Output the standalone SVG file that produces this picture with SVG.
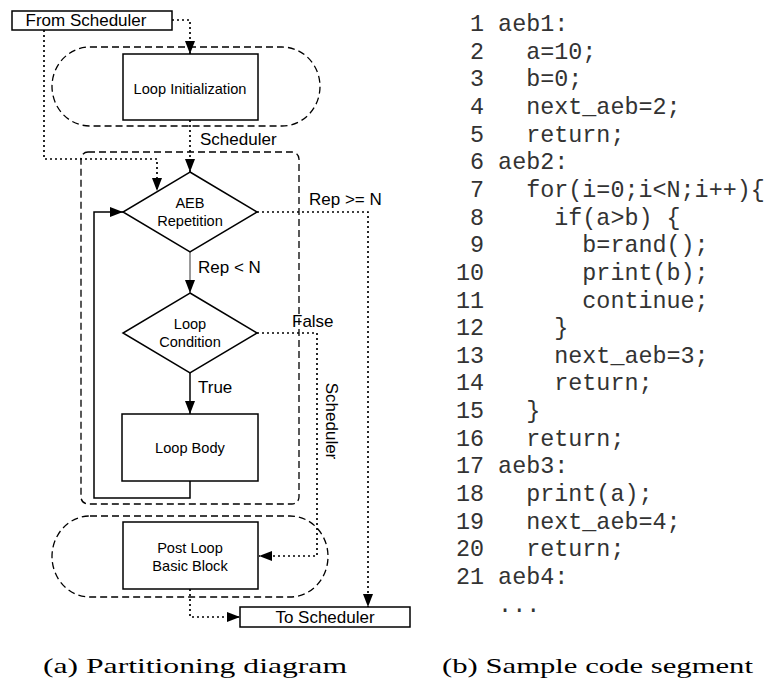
<svg xmlns="http://www.w3.org/2000/svg" width="767" height="684" viewBox="0 0 767 684">
<style>
.lbl{font-family:"Liberation Sans",Arial,sans-serif;font-size:17px;fill:#000}
.nl{font-family:"Liberation Sans",Arial,sans-serif;font-size:14.6px;fill:#000;text-anchor:middle}
.box{fill:#fff;stroke:#000;stroke-width:1.5}
.dash{fill:none;stroke:#000;stroke-width:1.3;stroke-dasharray:7 4}
.dot{fill:none;stroke:#000;stroke-width:1.7;stroke-dasharray:2 3}
.sol{fill:none;stroke:#000;stroke-width:1.5}
.code{font-family:"Liberation Mono","Courier New",monospace;font-size:23.4px;fill:#333;white-space:pre}
.cap{font-family:"Liberation Serif","Times New Roman",serif;font-size:22px;fill:#000}
</style>
<defs>
<marker id="ah" markerUnits="userSpaceOnUse" markerWidth="13" markerHeight="10" refX="13" refY="5" orient="auto">
<path d="M0,0 L13,5 L0,10 z" fill="#000"/>
</marker>
</defs>
<rect width="767" height="684" fill="#fff"/>

<g id="regions">
<rect class="dash" x="52" y="47" width="268" height="79" rx="38" ry="39.5"/>
<rect class="dash" x="81" y="152" width="218" height="352" rx="7"/>
<rect class="dash" x="52" y="516" width="276" height="81" rx="38" ry="40.5"/>
</g>

<g id="connectors">
<path class="dot" d="M172,20 H190 V54" marker-end="url(#ah)"/>
<path class="dot" d="M44,30 V159 H157 V191" marker-end="url(#ah)"/>
<path class="dot" d="M190,120 V172" marker-end="url(#ah)"/>
<path class="dot" d="M257,212 H368 V607" marker-end="url(#ah)"/>
<path fill="none" stroke="#777" stroke-width="1.5" d="M190,252 V293" marker-end="url(#ah)"/>
<path class="sol" d="M190,373 V414" marker-end="url(#ah)"/>
<path class="dot" d="M257,333 H317 V556 H259" marker-end="url(#ah)"/>
<path class="sol" d="M190,481 V498 H94 V212 H123" marker-end="url(#ah)"/>
<path class="dot" d="M190,589 V617 H240" marker-end="url(#ah)"/>
<text class="lbl" x="200" y="145">Scheduler</text>
<text class="lbl" x="309" y="205">Rep &gt;= N</text>
<text class="lbl" x="198" y="273">Rep &lt; N</text>
<text class="lbl" x="292" y="327">False</text>
<text class="lbl" x="198" y="393">True</text>
<text class="lbl" text-anchor="middle" transform="translate(326,421) rotate(90)">Scheduler</text>
</g>

<g id="from-scheduler">
<rect class="box" x="12" y="11" width="160" height="19"/>
<text class="lbl" x="86" y="26" text-anchor="middle" font-size="17.5">From Scheduler</text>
</g>

<g id="loop-init">
<rect class="box" x="123" y="54" width="135" height="66"/>
<text class="nl" x="190" y="94">Loop Initialization</text>
</g>

<g id="aeb-repetition">
<polygon class="box" points="190,172 257,212 190,252 123,212"/>
<text class="nl" x="190" y="208">AEB</text>
<text class="nl" x="190" y="226">Repetition</text>
</g>

<g id="loop-condition">
<polygon class="box" points="190,293 257,333 190,373 123,333"/>
<text class="nl" x="190" y="329">Loop</text>
<text class="nl" x="190" y="347">Condition</text>
</g>

<g id="loop-body">
<rect class="box" x="122" y="414" width="136" height="67"/>
<text class="nl" x="190" y="453">Loop Body</text>
</g>

<g id="post-loop">
<rect class="box" x="123" y="522" width="135" height="67"/>
<text class="nl" x="190" y="553">Post Loop</text>
<text class="nl" x="190" y="571">Basic Block</text>
</g>

<g id="to-scheduler">
<rect class="box" x="240" y="607" width="170" height="20"/>
<text class="lbl" x="325" y="623" text-anchor="middle">To Scheduler</text>
</g>

<g id="code">
<text class="code" xml:space="preserve" x="456" y="31"> 1 aeb1:</text>
<text class="code" xml:space="preserve" x="456" y="58.65"> 2   a=10;</text>
<text class="code" xml:space="preserve" x="456" y="86.3"> 3   b=0;</text>
<text class="code" xml:space="preserve" x="456" y="113.95"> 4   next_aeb=2;</text>
<text class="code" xml:space="preserve" x="456" y="141.6"> 5   return;</text>
<text class="code" xml:space="preserve" x="456" y="169.25"> 6 aeb2:</text>
<text class="code" xml:space="preserve" x="456" y="196.9"> 7   for(i=0;i&lt;N;i++){</text>
<text class="code" xml:space="preserve" x="456" y="224.55"> 8     if(a&gt;b) {</text>
<text class="code" xml:space="preserve" x="456" y="252.2"> 9       b=rand();</text>
<text class="code" xml:space="preserve" x="456" y="279.85">10       print(b);</text>
<text class="code" xml:space="preserve" x="456" y="307.5">11       continue;</text>
<text class="code" xml:space="preserve" x="456" y="335.15">12     }</text>
<text class="code" xml:space="preserve" x="456" y="362.8">13     next_aeb=3;</text>
<text class="code" xml:space="preserve" x="456" y="390.45">14     return;</text>
<text class="code" xml:space="preserve" x="456" y="418.1">15   }</text>
<text class="code" xml:space="preserve" x="456" y="445.75">16   return;</text>
<text class="code" xml:space="preserve" x="456" y="473.4">17 aeb3:</text>
<text class="code" xml:space="preserve" x="456" y="501.05">18   print(a);</text>
<text class="code" xml:space="preserve" x="456" y="528.7">19   next_aeb=4;</text>
<text class="code" xml:space="preserve" x="456" y="556.35">20   return;</text>
<text class="code" xml:space="preserve" x="456" y="584">21 aeb4:</text>
<text class="code" xml:space="preserve" x="456" y="611.65">   ...</text>
</g>

<g id="captions">
<text class="cap" x="43" y="673" textLength="304" lengthAdjust="spacingAndGlyphs">(a) Partitioning diagram</text>
<text class="cap" x="442" y="673" textLength="311" lengthAdjust="spacingAndGlyphs">(b) Sample code segment</text>
</g>
</svg>
